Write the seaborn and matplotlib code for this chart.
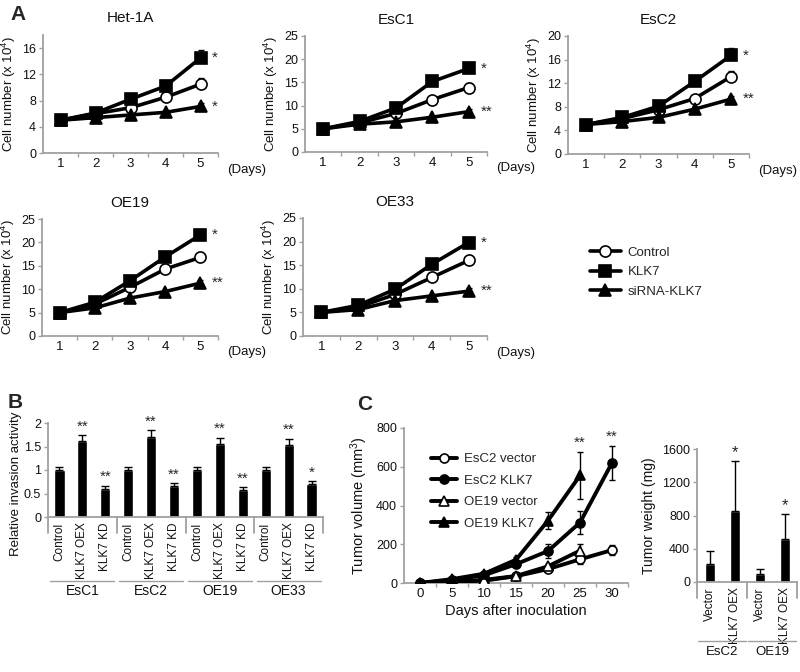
import numpy as np
import matplotlib
matplotlib.use('Agg')
import matplotlib.pyplot as plt
import matplotlib.transforms as mtransforms
import seaborn as sns

# ---- panel A : cell growth ----
days = [1, 2, 3, 4, 5]
growth_titles = ['Het-1A', 'EsC1', 'EsC2', 'OE19', 'OE33']

ctrl_vals = {
    'Het-1A': [5.0, 6.0, 6.9, 8.5, 10.5],
    'EsC1': [5.0, 6.3, 8.3, 11.3, 13.9],
    'EsC2': [5.0, 6.0, 7.5, 9.4, 13.1],
    'OE19': [5.0, 6.8, 10.4, 14.3, 16.8],
    'OE33': [5.0, 6.1, 8.8, 12.4, 16.0],
}
klk7_vals = {
    'Het-1A': [5.0, 6.1, 8.2, 10.2, 14.5],
    'EsC1': [5.0, 6.6, 9.5, 15.2, 18.0],
    'EsC2': [5.0, 6.2, 8.1, 12.3, 16.7],
    'OE19': [5.0, 7.2, 11.8, 16.9, 21.6],
    'OE33': [5.0, 6.5, 9.9, 15.2, 19.8],
}
sirna_vals = {
    'Het-1A': [5.0, 5.4, 5.8, 6.2, 7.1],
    'EsC1': [5.0, 6.0, 6.5, 7.5, 8.7],
    'EsC2': [5.0, 5.5, 6.2, 7.6, 9.3],
    'OE19': [5.0, 6.0, 8.1, 9.5, 11.3],
    'OE33': [5.0, 5.6, 7.5, 8.5, 9.5],
}
ctrl_err = [0.1, 0.2, 0.3, 0.4, 0.9]
klk7_err = [0.1, 0.2, 0.3, 0.5, 1.2]
sirna_err = [0.1, 0.2, 0.2, 0.3, 0.6]
y_max = {'Het-1A': 18, 'EsC1': 25, 'EsC2': 20, 'OE19': 25, 'OE33': 25}
y_step = {'Het-1A': 4, 'EsC1': 5, 'EsC2': 4, 'OE19': 5, 'OE33': 5}
y_top_tick = {'Het-1A': 16, 'EsC1': 25, 'EsC2': 20, 'OE19': 25, 'OE33': 25}
klk7_star = {'Het-1A': '*', 'EsC1': '*', 'EsC2': '*', 'OE19': '*', 'OE33': '*'}
sirna_star = {'Het-1A': '*', 'EsC1': '**', 'EsC2': '**', 'OE19': '**', 'OE33': '**'}

# ---- panel B : invasion ----
cell_lines_b = ['EsC1', 'EsC2', 'OE19', 'OE33']
conditions_b = ['Control', 'KLK7 OEX', 'KLK7 KD']
invasion = [1.0, 1.62, 0.60, 1.0, 1.70, 0.67, 1.0, 1.56, 0.58, 1.0, 1.54, 0.70]
invasion_err = [0.07, 0.13, 0.07, 0.07, 0.15, 0.05, 0.07, 0.13, 0.05, 0.07, 0.13, 0.06]
invasion_stars = ['', '**', '**', '', '**', '**', '', '**', '**', '', '**', '*']

# ---- panel C : tumour volume ----
inoc_days = [0, 5, 10, 15, 20, 25, 30]
esc2_vector = [0, 5, 12, 35, 72, 122, 170]
esc2_vector_err = [0, 3, 5, 8, 12, 25, 25]
esc2_klk7 = [0, 15, 40, 97, 165, 312, 620]
esc2_klk7_err = [0, 5, 8, 15, 35, 60, 88]
oe19_vector = [0, 6, 16, 36, 86, 167]
oe19_vector_err = [0, 3, 5, 8, 12, 35]
oe19_klk7 = [0, 20, 48, 120, 322, 555]
oe19_klk7_err = [0, 5, 8, 15, 45, 122]
volume_star_days = [25, 30]
volume_star_y = [690, 720]

# ---- panel C : tumour weight ----
weight_groups = ['EsC2', 'OE19']
weight_labels = ['Vector', 'KLK7 OEX', 'Vector', 'KLK7 OEX']
weight = [220, 850, 100, 520]
weight_err = [150, 610, 55, 295]
weight_stars = ['', '*', '', '*']

sns.set_style('white')
plt.rcParams['font.family'] = ['Liberation Sans', 'DejaVu Sans']
plt.rcParams['mathtext.fontset'] = 'custom'
plt.rcParams['mathtext.rm'] = 'Liberation Sans'
plt.rcParams['mathtext.it'] = 'Liberation Sans'
GRAY = '#a0a0a0'
TXT = '#111111'

fig = plt.figure(figsize=(8, 6.72), dpi=100)


def px_axes(left, top, right, bottom):
    return fig.add_axes([left / 800, 1 - bottom / 672, (right - left) / 800, (bottom - top) / 672])


def style_axes(ax):
    for s in ['top', 'right']:
        ax.spines[s].set_visible(False)
    for s in ['left', 'bottom']:
        ax.spines[s].set_color(GRAY)
        ax.spines[s].set_linewidth(1.3)
    ax.tick_params(axis='y', which='major', direction='out', length=3, width=1, color=GRAY,
                   labelsize=9, labelcolor=TXT, pad=2, left=True)
    ax.tick_params(axis='x', which='major', length=0, labelsize=9.5, labelcolor=TXT)
    ax.tick_params(axis='x', which='minor', direction='out', length=3, width=1, color=GRAY,
                   bottom=True)


growth_pos = {
    'Het-1A': (43, 35, 218, 153),
    'EsC1': (305, 36, 487, 152),
    'EsC2': (568, 36, 749, 154),
    'OE19': (42, 219, 218, 336),
    'OE33': (303, 218, 487, 336),
}

line_kw = dict(color='black', linewidth=2.6, markersize=8, markeredgecolor='black',
               markeredgewidth=1.2)
legend_handles = None
for name in growth_titles:
    ax = px_axes(*growth_pos[name])
    style_axes(ax)
    series = [(ctrl_vals[name], ctrl_err, 'o', 'white', 'Control'),
              (klk7_vals[name], klk7_err, 's', 'black', 'KLK7'),
              (sirna_vals[name], sirna_err, '^', 'black', 'siRNA-KLK7')]
    for vals, err, mk, fc, lab in series:
        ax.errorbar(days, vals, yerr=[np.zeros(5), err], fmt='none', ecolor='black',
                    elinewidth=1, capsize=2.5, zorder=2)
    for vals, err, mk, fc, lab in series:
        sns.lineplot(x=days, y=vals, ax=ax, marker=mk, markerfacecolor=fc, label=lab,
                     zorder=3, **line_kw)
    legend_handles = ax.get_legend_handles_labels()
    ax.get_legend().remove()
    ax.set_xlim(0.5, 5.5)
    ax.set_ylim(0, y_max[name])
    ax.set_xticks(days)
    ax.set_xticks([1.5, 2.5, 3.5, 4.5, 5.5], minor=True)
    ax.set_yticks(np.arange(0, y_top_tick[name] + 1, y_step[name]))
    ax.set_ylabel('Cell number (x 10$^4$)', fontsize=9.5, color=TXT, labelpad=3)
    ax.set_xlabel('')
    ax.set_title(name, fontsize=11, color=TXT, pad=9)
    ax.text(1.05, -0.14, '(Days)', transform=ax.transAxes, fontsize=9.5, color=TXT,
            va='center', ha='left')
    ax.text(5.32, klk7_vals[name][-1], klk7_star[name], fontsize=11, va='center', ha='left')
    ax.text(5.32, sirna_vals[name][-1], sirna_star[name], fontsize=11, va='center', ha='left')

fig.legend(*legend_handles, loc='upper left', bbox_to_anchor=(583 / 800, 1 - 240 / 672),
           frameon=False, fontsize=9.5, handlelength=2.4, labelspacing=0.55,
           handletextpad=0.5, borderpad=0)

# ---- panel B ----
axb = px_axes(48, 423, 323, 517)
style_axes(axb)
xb = np.arange(len(invasion))
sns.barplot(x=xb, y=invasion, ax=axb, color='black', width=0.44, saturation=1)
axb.errorbar(xb, invasion, yerr=[np.zeros(len(xb)), invasion_err], fmt='none',
             ecolor='black', elinewidth=1, capsize=3)
for i, s in enumerate(invasion_stars):
    if s:
        axb.text(i, invasion[i] + invasion_err[i] + 0.03, s, ha='center', va='bottom',
                 fontsize=11)
axb.set_xlim(-0.5, len(xb) - 0.5)
axb.set_ylim(0, 2)
axb.set_yticks([0, 0.5, 1, 1.5, 2])
axb.set_yticklabels(['0', '0.5', '1', '1.5', '2'])
axb.set_xticks(xb)
axb.set_xticklabels(conditions_b * len(cell_lines_b), rotation=90, fontsize=8.5)
axb.tick_params(axis='x', pad=4)
axb.set_ylabel('Relative invasion activity', fontsize=9.5, color=TXT, labelpad=5)
axb.yaxis.set_label_coords(-0.095, 0.35)
tb = mtransforms.blended_transform_factory(axb.transData, axb.transAxes)
for g in range(len(cell_lines_b) + 1):
    axb.plot([g * 3 - 0.5] * 2, [0, -0.17], color=GRAY, lw=1.3, transform=tb, clip_on=False)
for g, name in enumerate(cell_lines_b):
    axb.plot([g * 3 - 0.4, g * 3 + 2.4], [-0.68, -0.68], color=GRAY, lw=1, transform=tb,
             clip_on=False)
    axb.text(g * 3 + 1, -0.79, name, transform=tb, ha='center', va='center', fontsize=10,
             color=TXT)

# ---- panel C volume ----
axc = px_axes(404, 428, 628, 583)
style_axes(axc)
vol_series = [(inoc_days, esc2_vector, esc2_vector_err, 'o', 'white', 'EsC2 vector'),
              (inoc_days, esc2_klk7, esc2_klk7_err, 'o', 'black', 'EsC2 KLK7'),
              (inoc_days[:6], oe19_vector, oe19_vector_err, '^', 'white', 'OE19 vector'),
              (inoc_days[:6], oe19_klk7, oe19_klk7_err, '^', 'black', 'OE19 KLK7')]
for xd, vals, err, mk, fc, lab in vol_series:
    axc.errorbar(xd, vals, yerr=err, fmt='none', ecolor='black', elinewidth=1,
                 capsize=2.5, zorder=2)
for xd, vals, err, mk, fc, lab in vol_series:
    sns.lineplot(x=xd, y=vals, ax=axc, marker=mk, markerfacecolor=fc, label=lab, zorder=3,
                 color='black', linewidth=2.8, markersize=6.5, markeredgecolor='black',
                 markeredgewidth=1.2)
axc.legend(loc='upper left', bbox_to_anchor=(0.09, 0.88), frameon=False, fontsize=9.5,
           handlelength=2.0, labelspacing=0.7, handletextpad=0.5, borderpad=0)
for d, yv in zip(volume_star_days, volume_star_y):
    axc.text(d, yv, '**', ha='center', va='bottom', fontsize=11)
axc.set_xlim(-2.5, 32.5)
axc.set_ylim(0, 800)
axc.set_xticks(inoc_days)
axc.set_xticks(np.arange(2.5, 33, 5), minor=True)
axc.set_yticks([0, 200, 400, 600, 800])
axc.set_xlabel('Days after inoculation', fontsize=10.5, color=TXT, labelpad=3)
axc.set_ylabel('Tumor volume (mm$^3$)', fontsize=10.5, color=TXT, labelpad=4)

# ---- panel C weight ----
axw = px_axes(697, 449, 797, 582)
style_axes(axw)
xw = np.arange(len(weight))
sns.barplot(x=xw, y=weight, ax=axw, color='black', width=0.4, saturation=1)
axw.errorbar(xw, weight, yerr=[np.zeros(len(xw)), weight_err], fmt='none', ecolor='black',
             elinewidth=1, capsize=3)
for i, s in enumerate(weight_stars):
    if s:
        axw.text(i, weight[i] + weight_err[i] + 10, s, ha='center', va='bottom', fontsize=12)
axw.set_xlim(-0.5, len(xw) - 0.5)
axw.set_ylim(0, 1600)
axw.set_yticks([0, 400, 800, 1200, 1600])
axw.set_xticks(xw)
axw.set_xticklabels(weight_labels, rotation=90, fontsize=8.5)
axw.tick_params(axis='x', pad=4)
axw.set_ylabel('Tumor weight (mg)', fontsize=10, color=TXT, labelpad=4)
tw = mtransforms.blended_transform_factory(axw.transData, axw.transAxes)
for g in range(len(weight_groups) + 1):
    axw.plot([g * 2 - 0.5] * 2, [0, -0.12], color=GRAY, lw=1.3, transform=tw, clip_on=False)
for g, name in enumerate(weight_groups):
    axw.plot([g * 2 - 0.45, g * 2 + 1.45], [-0.44, -0.44], color=GRAY, lw=1, transform=tw,
             clip_on=False)
    axw.text(g * 2 + 0.5, -0.53, name, transform=tw, ha='center', va='center', fontsize=9.5,
             color=TXT)

fig.text(10 / 800, 1 - 14 / 672, 'A', fontsize=15, fontweight='bold', va='center')
fig.text(8 / 800, 1 - 403 / 672, 'B', fontsize=15, fontweight='bold', va='center')
fig.text(357 / 800, 1 - 404 / 672, 'C', fontsize=15, fontweight='bold', va='center')

fig.savefig('out.png', dpi=100)
